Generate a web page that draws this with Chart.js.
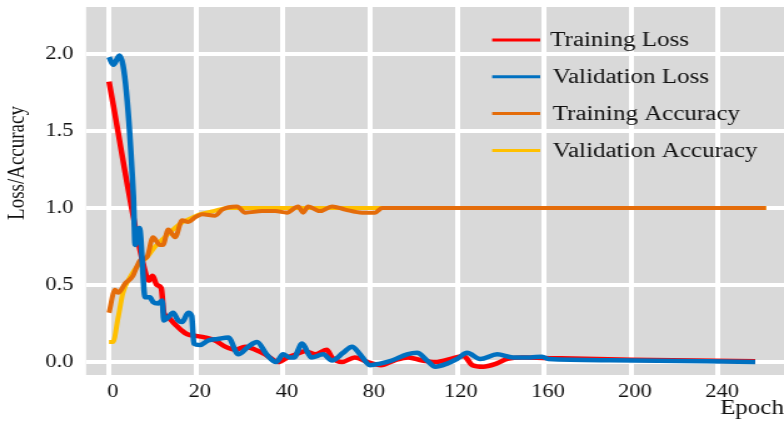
<!DOCTYPE html>
<html>
<head>
<meta charset="utf-8">
<script src="https://cdn.jsdelivr.net/npm/chart.js@4.4.1/dist/chart.umd.min.js"></script>
<style>
  html, body { margin: 0; padding: 0; background: #ffffff; }
  canvas { display: block; }
</style>
</head>
<body>
<!-- the original picture is stretched sideways, so the bitmap is drawn narrow and widened by css -->
<canvas id="chart" width="627" height="421" style="width:784px;height:421px"></canvas>
<script>
// x axis is broken: 0-40 in steps of 20, then steps of 40
const epochTicks = [0, 20, 40, 80, 120, 160, 200, 240];
const yTicks = [0, 0.5, 1.0, 1.5, 2.0];

const trainLossEpochs = [0, 8, 9.2, 10, 11, 12, 12.6, 13.6, 15, 16.5, 18, 20, 22, 24.4, 26.7, 29, 31.3, 33.6, 35.9, 38.9, 42, 46, 50, 55, 60, 62.5, 67, 73, 79, 85, 91, 97.5, 104, 110, 117, 123, 127, 132, 138, 143, 150, 165, 200, 257];
const trainLoss = [1.82, 0.62, 0.53, 0.56, 0.50, 0.48, 0.32, 0.29, 0.25, 0.21, 0.18, 0.17, 0.16, 0.14, 0.10, 0.08, 0.10, 0.08, 0.05, 0.00, 0.03, 0.05, 0.07, 0.05, 0.08, 0.03, 0.00, 0.03, 0.00, -0.02, 0.01, 0.03, 0.01, 0.00, 0.02, 0.04, -0.02, -0.03, -0.01, 0.02, 0.03, 0.025, 0.015, 0.005];

const valLossEpochs = [0, 1, 2.4, 5.6, 6.0, 7.0, 8.3, 9.4, 10.1, 11.3, 12.2, 12.6, 13.6, 14.7, 15.9, 16.8, 18.2, 19.0, 19.5, 20.9, 22.8, 25, 27.4, 29.7, 32, 34, 36.2, 38.4, 40, 43, 45, 48.7, 53, 58.4, 62.5, 67.6, 71.7, 75.4, 80, 84.6, 90, 97, 101.6, 106.2, 110, 115.4, 120, 124.6, 130.6, 138.4, 145.7, 153.6, 159, 162, 190, 257];
const valLoss = [1.98, 1.93, 1.99, 1.08, 0.76, 0.87, 0.42, 0.42, 0.39, 0.38, 0.40, 0.27, 0.29, 0.32, 0.27, 0.26, 0.32, 0.30, 0.12, 0.11, 0.14, 0.15, 0.16, 0.05, 0.10, 0.13, 0.05, 0.00, 0.05, 0.03, 0.03, 0.12, 0.03, 0.05, 0.01, 0.06, 0.10, 0.05, -0.02, -0.01, 0.01, 0.05, 0.06, 0.01, -0.03, -0.01, 0.02, 0.06, 0.02, 0.05, 0.03, 0.03, 0.035, 0.02, 0.012, 0.0];

const trainAccEpochs = [0, 1.4, 2.1, 3.7, 5.5, 6.4, 7.1, 8.7, 10.1, 11.7, 12.4, 13.6, 15.2, 16.8, 18.2, 19.8, 21.4, 24.4, 26, 29.4, 31.3, 35.2, 38.2, 41.8, 46.9, 49.2, 51.5, 57, 62.5, 68.5, 76.3, 82.3, 85.5, 100, 262];
const trainAcc = [0.32, 0.47, 0.45, 0.51, 0.56, 0.62, 0.66, 0.68, 0.81, 0.76, 0.76, 0.86, 0.81, 0.92, 0.91, 0.94, 0.96, 0.95, 0.99, 1.01, 0.97, 0.98, 0.98, 0.97, 1.01, 0.97, 1.01, 0.98, 1.01, 0.99, 0.97, 0.97, 1.0, 1.0, 1.0];

const valAccEpochs = [0, 0.9, 2.1, 3.2, 4.8, 6.7, 8.7, 10.6, 12.4, 14.7, 17, 19.3, 21, 24, 27.4, 80, 262];
const valAcc = [0.13, 0.13, 0.29, 0.45, 0.55, 0.63, 0.68, 0.75, 0.80, 0.86, 0.91, 0.94, 0.96, 0.98, 1.0, 1.0, 1.0];

// epoch -> position on the broken axis (one unit per tick)
function axisPos(ep) {
    return ep <= 40 ? ep / 20 : 2 + (ep - 40) / 40;
}

function points(epochs, values) {
    return epochs.map((e, i) => ({ x: axisPos(e), y: values[i] }));
}

const serif = "'Liberation Serif', 'Times New Roman', serif";
const textColor = "#111111";

// grey plot background
const plotBackground = {
    id: "plotBackground",
    beforeDraw(chart) {
        const { ctx, chartArea } = chart;
        ctx.save();
        ctx.fillStyle = "#d9d9d9";
        ctx.fillRect(chartArea.left, chartArea.top, chartArea.right - chartArea.left, chartArea.bottom - chartArea.top);
        ctx.restore();
    },
};

// legend box top right and the y title, placed as in the picture
const sideTexts = {
    id: "sideTexts",
    afterDraw(chart) {
        const ctx = chart.ctx;
        ctx.save();
        ctx.font = "20px " + serif;
        ctx.fillStyle = textColor;
        ctx.textBaseline = "middle";
        ctx.textAlign = "left";
        chart.data.datasets.forEach((ds, i) => {
            const y = 40 + i * 36.8;
            ctx.strokeStyle = ds.borderColor;
            ctx.lineWidth = 3;
            ctx.beginPath();
            ctx.moveTo(393.6, y);
            ctx.lineTo(432, y);
            ctx.stroke();
            ctx.fillText(ds.label, i === 0 ? 440 : 442, y + 1);
        });

        ctx.font = "19px " + serif;
        ctx.translate(14.4, 163);
        ctx.rotate(-Math.PI / 2);
        ctx.textAlign = "center";
        ctx.fillText("Loss/Accuracy", 0, 0);
        ctx.restore();
    },
};

const ctx = document.getElementById("chart");

new Chart(ctx, {
    type: "line",
    data: {
        datasets: [
            {
                label: "Training Loss",
                data: points(trainLossEpochs, trainLoss),
                borderColor: "#ff0000",
                borderWidth: 4.5,
                order: 1,
            },
            {
                label: "Validation Loss",
                data: points(valLossEpochs, valLoss),
                borderColor: "#0070c0",
                borderWidth: 4.5,
                order: 0,
            },
            {
                label: "Training Accuracy",
                data: points(trainAccEpochs, trainAcc),
                borderColor: "#e46c0a",
                borderWidth: 4,
                order: 2,
            },
            {
                label: "Validation Accuracy",
                data: points(valAccEpochs, valAcc),
                borderColor: "#ffc000",
                borderWidth: 4,
                order: 3,
            },
        ],
    },
    options: {
        responsive: false,
        animation: false,
        devicePixelRatio: 1,
        layout: { padding: { top: 7, right: 0, bottom: 0, left: 0 } },
        elements: {
            point: { radius: 0 },
            line: { cubicInterpolationMode: "monotone", fill: false, borderCapStyle: "butt" },
        },
        plugins: {
            legend: { display: false },
            tooltip: { enabled: false },
        },
        scales: {
            x: {
                type: "linear",
                min: -0.264,
                max: 7.756,
                afterBuildTicks: (scale) => {
                    scale.ticks = epochTicks.map((_, i) => ({ value: i }));
                },
                afterFit: (scale) => {
                    scale.height = 46;
                    scale.paddingLeft = 0;
                    scale.paddingRight = 0;
                },
                ticks: {
                    callback: (value) => epochTicks[value],
                    font: { family: serif, size: 18 },
                    color: textColor,
                    padding: 6,
                    labelOffset: 3,
                    maxRotation: 0,
                    autoSkip: false,
                },
                grid: { color: "#ffffff", lineWidth: 4, drawTicks: false },
                border: { display: false },
                title: {
                    display: true,
                    text: "Epoch",
                    align: "end",
                    color: textColor,
                    font: { family: serif, size: 20 },
                    padding: 0,
                },
            },
            y: {
                type: "linear",
                min: -0.084,
                max: 2.305,
                afterBuildTicks: (scale) => {
                    scale.ticks = yTicks.map((v) => ({ value: v }));
                },
                afterFit: (scale) => {
                    scale.width = 68.8;
                    scale.paddingTop = 0;
                    scale.paddingBottom = 0;
                },
                ticks: {
                    callback: (value) => value.toFixed(1),
                    font: { family: serif, size: 18 },
                    color: textColor,
                    padding: 10,
                },
                grid: { color: "#ffffff", lineWidth: 4, drawTicks: false },
                border: { display: false },
            },
        },
    },
    plugins: [plotBackground, sideTexts],
});
</script>
</body>
</html>
